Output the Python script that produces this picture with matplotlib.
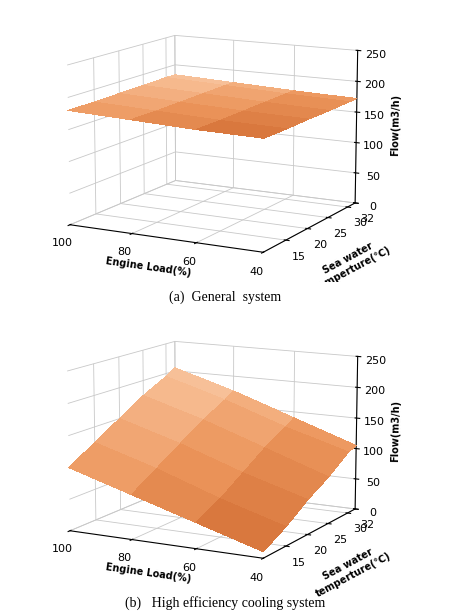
import matplotlib
matplotlib.use("Agg")
import matplotlib.pyplot as plt
import numpy as np
from matplotlib.colors import LinearSegmentedColormap

loads = [40, 60, 80, 100]
temps = [10, 15, 20, 25, 30, 32]
# flow (m3/h), rows = temps, cols = loads
flow_general = [
    [170, 172, 176, 180],
    [170, 172, 176, 180],
    [171, 173, 177, 181],
    [171, 174, 178, 182],
    [172, 175, 179, 183],
    [172, 175, 179, 183],
]
flow_high = [
    [10, 40, 70, 100],
    [30, 60, 95, 125],
    [55, 85, 120, 150],
    [75, 110, 145, 175],
    [100, 130, 165, 195],
    [105, 140, 175, 205],
]
captions = ["(a)  General  system", "(b)   High efficiency cooling system"]

cmap = LinearSegmentedColormap.from_list("peach", ["#d9783e", "#ec965c", "#f6b88c", "#fbd2b4"])
fig = plt.figure(figsize=(4.5, 6.12), dpi=100)
X, Y = np.meshgrid(loads, temps)
for i, (Z, cap) in enumerate(zip([flow_general, flow_high], captions)):
    ax = fig.add_axes([-0.08, 0.5 - i * 0.5, 1.1, 0.54], projection="3d")
    Z = np.array(Z, dtype=float)
    # colour gradient: lighter toward high load / high temperature corner
    t = (X - 40) / 60 * 0.6 + (Y - 10) / 22 * 0.4
    ax.plot_surface(X, Y, Z, facecolors=cmap(t), shade=False, linewidth=0,
                    antialiased=False, rstride=1, cstride=1)
    ax.set_xlim(100, 40)
    ax.set_ylim(10, 32)
    ax.set_zlim(0, 250)
    ax.set_xticks([100, 80, 60, 40])
    ax.set_yticks([15, 20, 25, 30, 32])
    ax.set_zticks([0, 50, 100, 150, 200, 250])
    ax.tick_params(labelsize=8, pad=0)
    ax.set_xlabel("Engine Load(%)", fontsize=7, fontweight="bold", labelpad=-4)
    ax.set_ylabel("Sea water\ntemperture(\u2103)", fontsize=7, fontweight="bold", labelpad=4)
    ax.set_zlabel("Flow(m3/h)", fontsize=7, fontweight="bold", labelpad=-3)
    for a in (ax.xaxis, ax.yaxis, ax.zaxis):
        a.set_pane_color((1, 1, 1, 0))
        a._axinfo["grid"]["color"] = "#c8c8c8"
        a._axinfo["grid"]["linewidth"] = 0.6
    ax.view_init(elev=12, azim=-62)
    fig.text(0.5, 0.515 - i * 0.5, cap, ha="center", va="center", fontsize=10, family="Liberation Serif")

fig.savefig("out.png", dpi=100)
